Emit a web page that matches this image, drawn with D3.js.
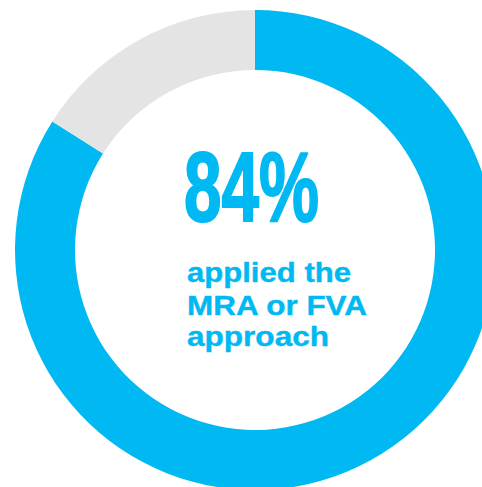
<!DOCTYPE html>
<html>
<head>
<meta charset="utf-8">
<script src="https://cdn.jsdelivr.net/npm/d3@7"></script>
<style>
  html, body { margin: 0; padding: 0; background: #fff; overflow: hidden; }
</style>
</head>
<body>
<script>
const categories = ["applied the MRA or FVA approach", "other"];
const values = [84, 16];
const colors = ["#00B9F2", "#E4E4E4"];
const headline = "84%";
const captionLines = ["applied the", "MRA or FVA", "approach"];

document.addEventListener('DOMContentLoaded', function() {
    const width = 482;
    const height = 487;
    const cx = 255, cy = 250;
    const outerR = 240, innerR = 180;

    const svg = d3.select("body").append("svg")
        .attr("width", width)
        .attr("height", height);

    const pie = d3.pie().sort(null).value(d => d);
    const arc = d3.arc().innerRadius(innerR).outerRadius(outerR);

    const g = svg.append("g")
        .attr("transform", `translate(${cx},${cy})`);

    g.selectAll("path")
        .data(pie(values))
        .join("path")
        .attr("d", arc)
        .attr("fill", (d, i) => colors[i]);

    // big percentage, stroked a little to get the heavy condensed look
    svg.append("text")
        .attr("x", 184)
        .attr("y", 221)
        .attr("font-family", "'Liberation Sans Narrow', 'Liberation Sans', Arial, sans-serif")
        .attr("font-weight", "bold")
        .attr("font-size", 99)
        .attr("textLength", 135)
        .attr("lengthAdjust", "spacingAndGlyphs")
        .attr("fill", colors[0])
        .attr("stroke", colors[0])
        .attr("stroke-width", 2)
        .attr("stroke-linejoin", "round")
        .text(headline);

    const lineWidths = [164, 180, 142];
    const baselines = [282, 315, 346];
    svg.selectAll("text.caption")
        .data(captionLines)
        .join("text")
        .attr("class", "caption")
        .attr("x", 187)
        .attr("y", (d, i) => baselines[i])
        .attr("font-family", "'Liberation Sans', Arial, sans-serif")
        .attr("font-weight", "bold")
        .attr("font-size", 28)
        .attr("textLength", (d, i) => lineWidths[i])
        .attr("lengthAdjust", "spacingAndGlyphs")
        .attr("fill", colors[0])
        .attr("stroke", colors[0])
        .attr("stroke-width", 0.4)
        .text(d => d);
});
</script>
</body>
</html>
